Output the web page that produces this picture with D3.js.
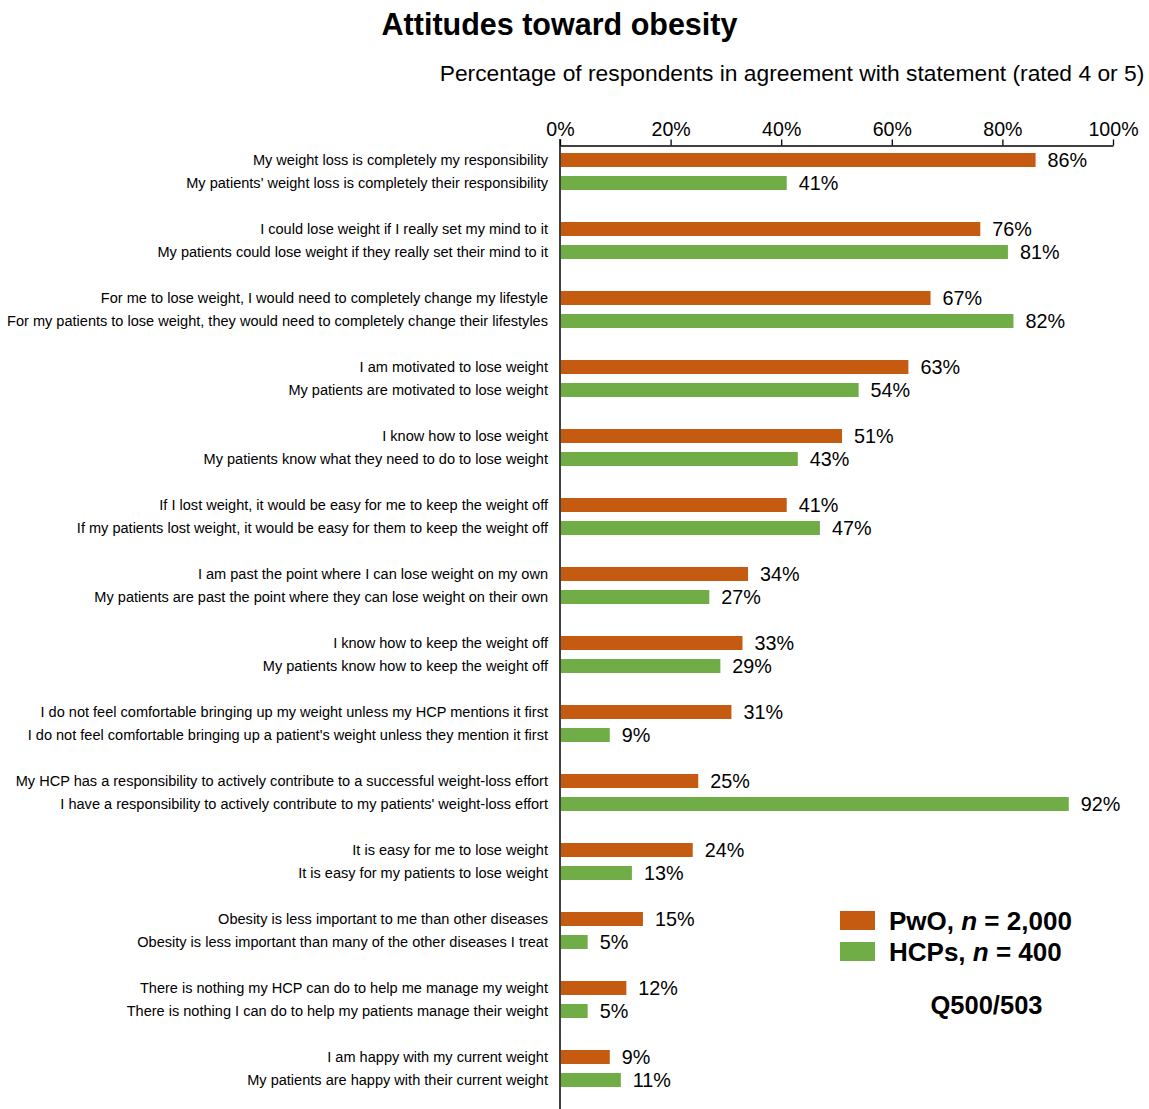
<!DOCTYPE html>
<html><head><meta charset="utf-8">
<script src="https://cdn.jsdelivr.net/npm/d3@7"></script>
<style>body{margin:0;background:#fff;}svg{display:block;font-family:"Liberation Sans",Arial,sans-serif;}</style>
</head><body><svg id="c" width="1149" height="1109"></svg>
<script>
const pwoLabels = [
"My weight loss is completely my responsibility",
"I could lose weight if I really set my mind to it",
"For me to lose weight, I would need to completely change my lifestyle",
"I am motivated to lose weight",
"I know how to lose weight",
"If I lost weight, it would be easy for me to keep the weight off",
"I am past the point where I can lose weight on my own",
"I know how to keep the weight off",
"I do not feel comfortable bringing up my weight unless my HCP mentions it first",
"My HCP has a responsibility to actively contribute to a successful weight-loss effort",
"It is easy for me to lose weight",
"Obesity is less important to me than other diseases",
"There is nothing my HCP can do to help me manage my weight",
"I am happy with my current weight"];
const hcpLabels = [
"My patients' weight loss is completely their responsibility",
"My patients could lose weight if they really set their mind to it",
"For my patients to lose weight, they would need to completely change their lifestyles",
"My patients are motivated to lose weight",
"My patients know what they need to do to lose weight",
"If my patients lost weight, it would be easy for them to keep the weight off",
"My patients are past the point where they can lose weight on their own",
"My patients know how to keep the weight off",
"I do not feel comfortable bringing up a patient's weight unless they mention it first",
"I have a responsibility to actively contribute to my patients' weight-loss effort",
"It is easy for my patients to lose weight",
"Obesity is less important than many of the other diseases I treat",
"There is nothing I can do to help my patients manage their weight",
"My patients are happy with their current weight"];
const pwoValues = [86,76,67,63,51,41,34,33,31,25,24,15,12,9];
const hcpValues = [41,81,82,54,43,47,27,29,9,92,13,5,5,11];
const tickValues = [0,20,40,60,80,100];
const seriesNames = ["PwO", "HCPs"];
const seriesN = ["2,000", "400"];
const colors = ["#C55A11", "#70AD47"];

const svg = d3.select("#c");
const x = d3.scaleLinear().domain([0,100]).range([560,1113]);
const y = d3.scaleBand().domain(d3.range(pwoValues.length)).range([148.5, 148.5+69*14]).paddingInner(0).paddingOuter(0);
const barH = 14;
const off = [11.5, 34.5];

svg.append("text").attr("x",559.5).attr("y",35).attr("text-anchor","middle")
  .attr("font-size",30.5).attr("font-weight","bold").text("Attitudes toward obesity");
svg.append("text").attr("x",792).attr("y",81).attr("text-anchor","middle")
  .attr("font-size",22.8).text("Percentage of respondents in agreement with statement (rated 4 or 5)");

const ax = svg.append("g").attr("transform","translate(0,145.5)")
  .call(d3.axisTop(x).tickValues(tickValues).tickFormat(d=>d+"%").tickSize(6).tickSizeOuter(0).tickPadding(4));
ax.select(".domain").attr("stroke","#000").attr("stroke-width",1.3);
ax.selectAll(".tick line").attr("stroke","#000").attr("stroke-width",1.3);
ax.selectAll(".tick text").attr("font-size",19.6).attr("font-family","Liberation Sans, Arial, sans-serif").attr("fill","#000");

svg.append("line").attr("x1",x(0)).attr("x2",x(0)).attr("y1",139).attr("y2",1109)
  .attr("stroke","#000").attr("stroke-width",1.5);

const series = [pwoValues, hcpValues];
const labels = [pwoLabels, hcpLabels];
series.forEach((vals, s) => {
  const g = svg.append("g");
  g.selectAll("rect").data(vals).enter().append("rect")
    .attr("x", x(0)+1).attr("y",(d,i)=>y(i)+off[s]-barH/2)
    .attr("width", d=>x(d)-x(0)-1).attr("height",barH).attr("fill",colors[s]);
  g.selectAll("text.v").data(vals).enter().append("text").attr("class","v")
    .attr("x", d=>x(d)+12).attr("y",(d,i)=>y(i)+off[s]+7)
    .attr("font-size",19.8).text(d=>d+"%");
  g.selectAll("text.l").data(labels[s]).enter().append("text").attr("class","l")
    .attr("x", 548).attr("y",(d,i)=>y(i)+off[s]+5).attr("text-anchor","end")
    .attr("font-size",14.55).text(d=>d);
});

const lg = svg.append("g");
seriesNames.forEach((n,i)=>{
  lg.append("rect").attr("x",840).attr("y",911+i*31).attr("width",35).attr("height",19).attr("fill",colors[i]);
  const t = lg.append("text").attr("x",889).attr("y",930+i*31).attr("font-size",26).attr("font-weight","bold");
  t.append("tspan").text(n+", ");
  t.append("tspan").attr("font-style","italic").text("n");
  t.append("tspan").text(" = "+seriesN[i]);
});
svg.append("text").attr("x",986.5).attr("y",1014).attr("text-anchor","middle")
  .attr("font-size",25.5).attr("font-weight","bold").text("Q500/503");
</script></body></html>
